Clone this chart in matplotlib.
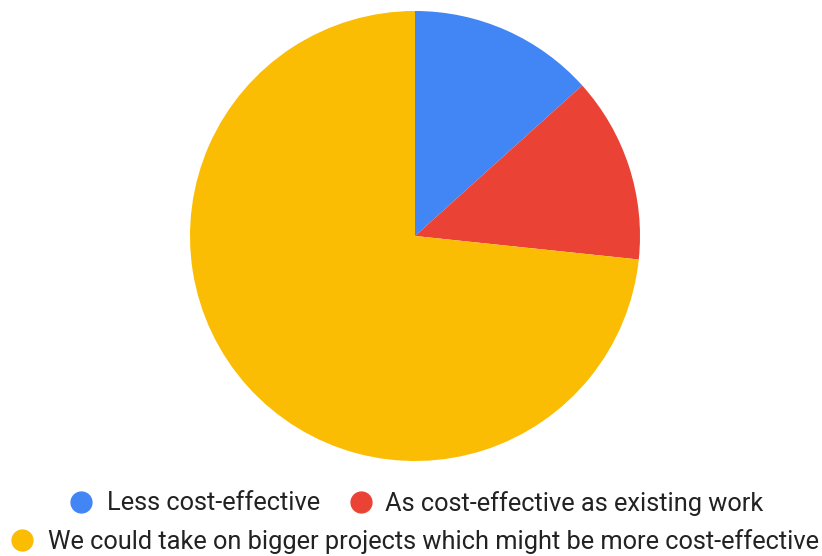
import matplotlib
matplotlib.use("Agg")
import matplotlib.pyplot as plt
from matplotlib.lines import Line2D

labels = ["Less cost-effective", "As cost-effective as existing work",
          "We could take on bigger projects which might be more cost-effective"]
values = [2, 2, 11]
colors = ["#4285F4", "#EA4335", "#FBBC04"]

plt.rcParams['font.family'] = ['Roboto', 'DejaVu Sans']

fig = plt.figure(figsize=(8.22, 5.56), dpi=100)
ax = fig.add_axes([190/822, 1-461/556, 450/822, 450/556])
ax.pie(values, colors=colors, startangle=90, counterclock=False,
       wedgeprops=dict(linewidth=0))
ax.set_xlim(-1, 1)
ax.set_ylim(-1, 1)
ax.set_aspect('equal')

# legend rows built manually
row1 = [(81, 107, 0), (361, 385, 1)]
row2 = [(22, 48, 2)]
for y, row in [(502, row1), (540, row2)]:
    for cx, tx, i in row:
        fig.add_artist(Line2D([cx/822], [1-y/556], marker='o', markersize=15,
                              color=colors[i], transform=fig.transFigure, linestyle='none'))
        fig.text(tx/822, 1-(y+1.5)/556, labels[i], fontsize=18.25, color='#222222',
                 va='center', ha='left')

fig.savefig("out.png", dpi=100)
